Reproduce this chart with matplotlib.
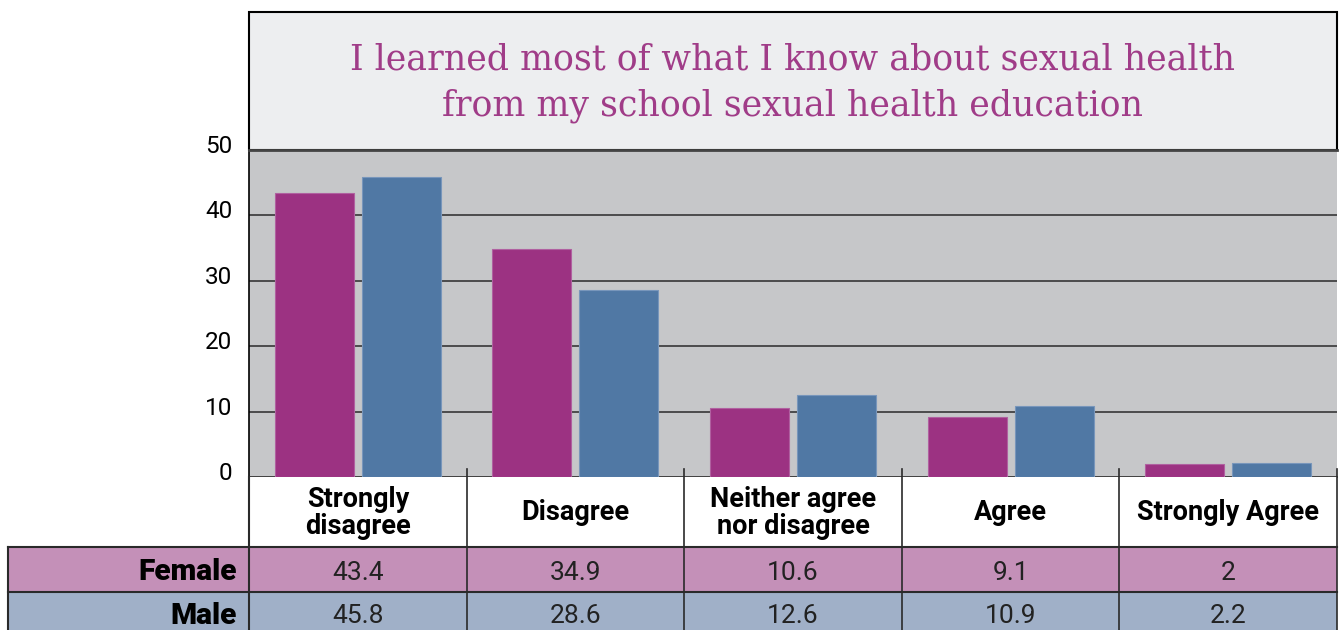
import numpy as np
import matplotlib
matplotlib.use('Agg')
from matplotlib import pyplot as plt
from matplotlib.patches import Rectangle
from matplotlib.transforms import blended_transform_factory, ScaledTranslation

# data
categories = ['Strongly\ndisagree', 'Disagree', 'Neither agree\nnor disagree', 'Agree', 'Strongly Agree']
female = [43.4, 34.9, 10.6, 9.1, 2]
male = [45.8, 28.6, 12.6, 10.9, 2.2]
female_labels = ['43.4', '34.9', '10.6', '9.1', '2']
male_labels = ['45.8', '28.6', '12.6', '10.9', '2.2']
yticks = [0, 10, 20, 30, 40, 50]
title = 'I learned most of what I know about sexual health\nfrom my school sexual health education'

W, H = 1340, 630
purple = '#9c3282'
blue = '#5078a4'
pink_row = '#c490b8'
blue_row = '#a0b0c8'
plot_bg = '#c6c7c9'
title_bg = '#edeef0'
dark = '#2a2a2a'

fig = plt.figure(figsize=(W / 100, H / 100), dpi=100)

# pixel edges of the plot area
x0, x1 = 249, 1337
ytop, ybot = 150, 477
ax = fig.add_axes([x0 / W, (H - ybot) / H, (x1 - x0) / W, (ybot - ytop) / H])
ax.set_facecolor(plot_bg)
x = np.arange(len(categories))
bw = 0.363
ax.bar(x - 0.2, female, bw, color=purple, edgecolor='#b060a0', linewidth=0.8, zorder=3)
ax.bar(x + 0.2, male, bw, color=blue, edgecolor='#7896bb', linewidth=0.8, zorder=3)
ax.set_xlim(-0.5, len(categories) - 0.5)
ax.set_ylim(0, 50)
ax.set_yticks(yticks)
ax.set_yticklabels([str(t) for t in yticks], fontsize=17.5, fontfamily='Roboto')
ax.tick_params(axis='y', length=0, pad=12)
# labels sit a little above their gridlines
for lab in ax.get_yticklabels():
    lab.set_transform(lab.get_transform() + ScaledTranslation(0, 6 / 100, fig.dpi_scale_trans))
ax.set_xticks([])
for t in yticks[1:-1]:
    ax.axhline(t, color=dark, lw=1.1, zorder=1)
for s in ['top', 'right']:
    ax.spines[s].set_visible(False)
ax.spines['left'].set_color('black')
ax.spines['left'].set_linewidth(1.2)
ax.spines['bottom'].set_color(dark)
ax.spines['bottom'].set_linewidth(1.2)

# overlay in pixel coords for the title box and the table
ov = fig.add_axes([0, 0, 1, 1])
ov.set_xlim(0, W)
ov.set_ylim(H, 0)
ov.axis('off')
ov.patch.set_alpha(0)

ov.add_patch(Rectangle((x0, 12), x1 - x0, ytop - 12, facecolor=title_bg,
                       edgecolor='black', lw=1.5))
ov.plot([x0, x1], [ytop, ytop], color='#444444', lw=2)
ov.text((x0 + x1) / 2, 83, title, ha='center', va='center', color='#a03c88',
        fontsize=25, fontfamily='DejaVu Serif', linespacing=1.45)

# table rows
r_head, r_f, r_m, r_end = 477, 547, 592, 630
ov.add_patch(Rectangle((x0, r_head), x1 - x0, r_f - r_head, facecolor='white', edgecolor='none'))
ov.add_patch(Rectangle((8, r_f), x1 - 8, r_m - r_f, facecolor=pink_row, edgecolor='none'))
ov.add_patch(Rectangle((8, r_m), x1 - 8, r_end - r_m, facecolor=blue_row, edgecolor='none'))
for yy in [r_f, r_m]:
    ov.plot([8, x1], [yy, yy], color=dark, lw=1.5)
ov.plot([8, 8], [r_f, r_end], color=dark, lw=1.5)
ov.plot([x0, x0], [r_head, r_end], color=dark, lw=1.5)

bt = blended_transform_factory(ax.transData, ov.transData)
for i in range(len(categories)):
    ov.plot([i + 0.5, i + 0.5], [469, r_end], color=dark, lw=1.2, transform=bt)
    ov.text(i, (r_head + r_f) / 2 + 1, categories[i], transform=bt, ha='center', va='center',
            fontsize=19.5, fontweight='bold', fontfamily='Roboto', linespacing=1.0)
    ov.text(i, (r_f + r_m) / 2 + 3, female_labels[i], transform=bt, ha='center', va='center',
            fontsize=19, fontfamily='Roboto', color='#222222')
    ov.text(i, (r_m + r_end) / 2 + 5, male_labels[i], transform=bt, ha='center', va='center',
            fontsize=19, fontfamily='Roboto', color='#222222')

ov.text(237, (r_f + r_m) / 2 + 3, 'Female', ha='right', va='center', fontsize=21.5,
        fontweight='black', fontfamily='Roboto')
ov.text(237, (r_m + r_end) / 2 + 5, 'Male', ha='right', va='center', fontsize=21.5,
        fontweight='black', fontfamily='Roboto')

fig.savefig('out.png', dpi=100)
